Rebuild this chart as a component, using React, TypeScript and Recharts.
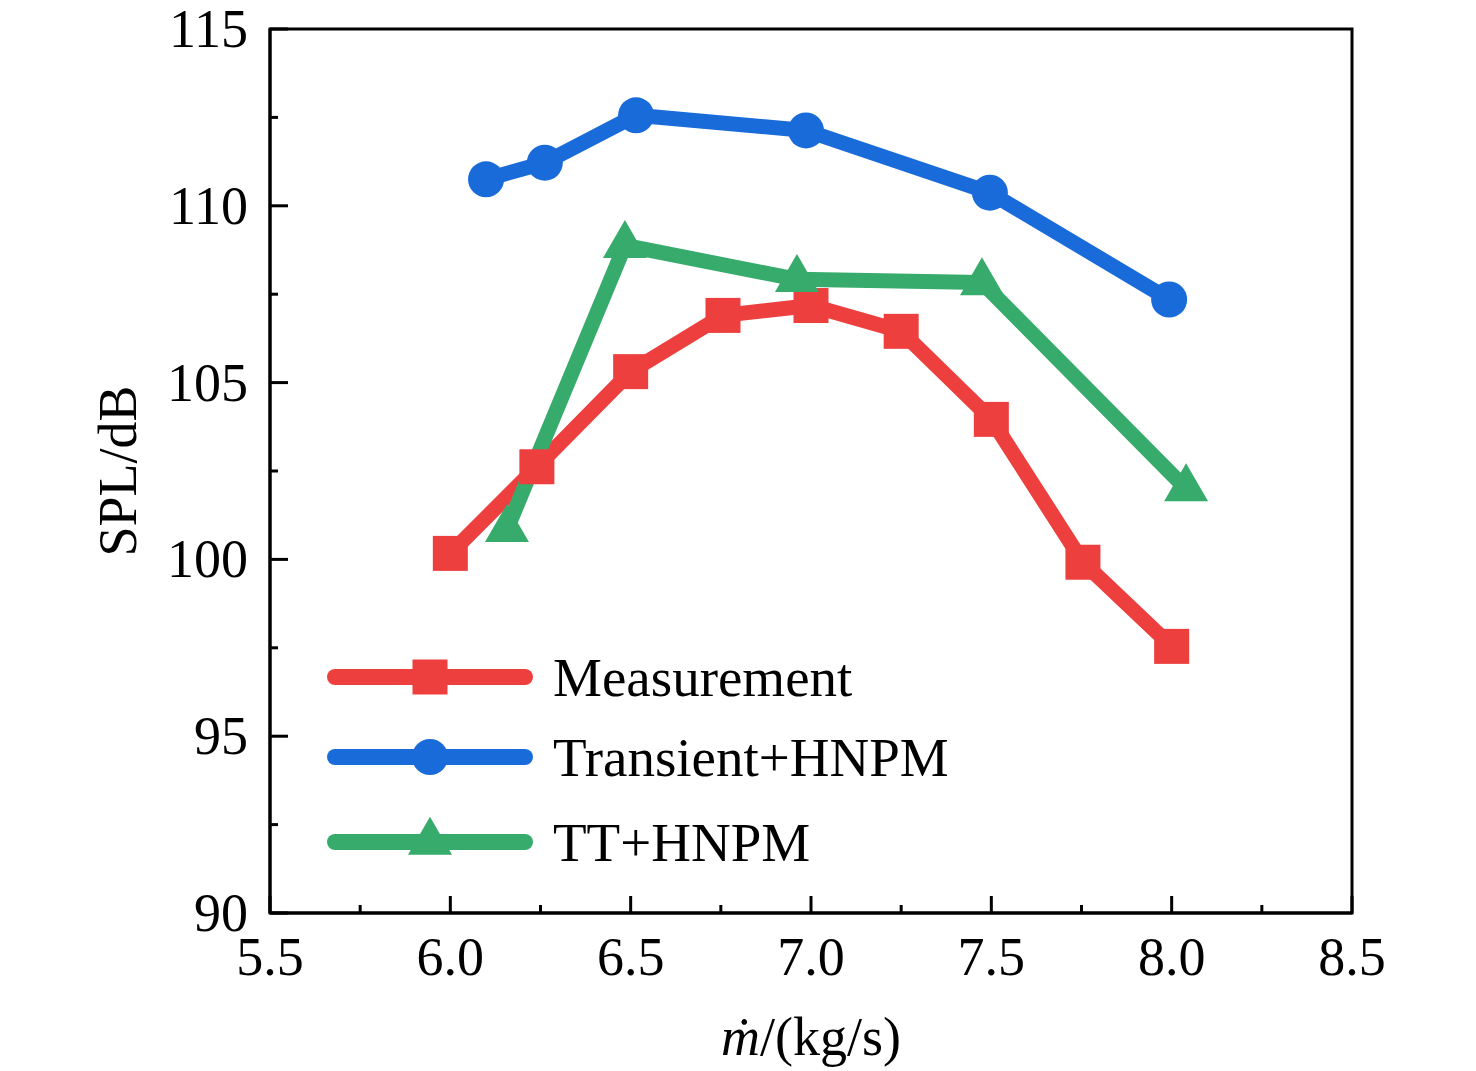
import React from "react";
import { LineChart, Line, XAxis, YAxis, ReferenceArea } from "recharts";

// m-dot (kg/s) vs SPL (dB)
const measX = [6.0, 6.24, 6.5, 6.756, 7.0, 7.25, 7.5, 7.754, 8.0];
const measY = [100.17, 102.62, 105.31, 106.9, 107.18, 106.45, 103.96, 99.92, 97.54];

const transX = [6.099, 6.262, 6.515, 6.986, 7.496, 7.993];
const transY = [110.75, 111.22, 112.56, 112.13, 110.37, 107.35];

const ttX = [6.157, 6.484, 6.961, 7.474, 8.04];
const ttY = [100.85, 108.88, 107.92, 107.83, 102.0];

const xMajor = [5.5, 6.0, 6.5, 7.0, 7.5, 8.0, 8.5];
const xMinor = [5.75, 6.25, 6.75, 7.25, 7.75, 8.25];
const yMajor = [90, 95, 100, 105, 110, 115];
const yMinor = [92.5, 97.5, 102.5, 107.5, 112.5];

const RED = "#EE3F3F";
const BLUE = "#1A6BDA";
const GREEN = "#36AB6B";

const FONT = "'Liberation Serif', 'Times New Roman', serif";
const W = 1476;
const H = 1071;

const zip = (xs: number[], ys: number[]) => xs.map((x, i) => ({ x, y: ys[i] }));

type Shape = "square" | "circle" | "triangle";

function Marker({ cx, cy, shape, color }: { cx: number; cy: number; shape: Shape; color: string }) {
  if (cx == null || cy == null) return null;
  if (shape === "square") {
    return <rect x={cx - 17.5} y={cy - 17.5} width={35} height={35} fill={color} />;
  }
  if (shape === "circle") {
    return <circle cx={cx} cy={cy} r={18} fill={color} />;
  }
  // triangle: centroid sits on the data point
  const w = 44;
  const h = 38;
  return (
    <polygon
      points={`${cx},${cy - (2 * h) / 3} ${cx - w / 2},${cy + h / 3} ${cx + w / 2},${cy + h / 3}`}
      fill={color}
    />
  );
}

const series = [
  { name: "Measurement", data: zip(measX, measY), color: RED, shape: "square" as Shape },
  { name: "Transient+HNPM", data: zip(transX, transY), color: BLUE, shape: "circle" as Shape },
  { name: "TT+HNPM", data: zip(ttX, ttY), color: GREEN, shape: "triangle" as Shape },
];

function XTick(props: any) {
  const { x, y, payload } = props;
  const major = xMajor.includes(payload.value);
  return (
    <g>
      <line x1={x} x2={x} y1={y} y2={y - (major ? 17 : 8)} stroke="#000" strokeWidth={3} />
      {major && (
        <text
          x={x}
          y={y + 44}
          textAnchor="middle"
          dominantBaseline="central"
          fontFamily={FONT}
          fontSize={54}
          fill="#000"
        >
          {payload.value.toFixed(1)}
        </text>
      )}
    </g>
  );
}

function YTick(props: any) {
  const { x, y, payload } = props;
  const major = yMajor.includes(payload.value);
  return (
    <g>
      <line x1={x} x2={x + (major ? 18 : 8)} y1={y} y2={y} stroke="#000" strokeWidth={3} />
      {major && (
        <text
          x={x - 22}
          y={y}
          textAnchor="end"
          dominantBaseline="central"
          fontFamily={FONT}
          fontSize={54}
          fill="#000"
        >
          {payload.value}
        </text>
      )}
    </g>
  );
}

function XLabel(props: any) {
  const { viewBox } = props;
  const cx = viewBox.x + viewBox.width / 2;
  return (
    <text x={cx} y={viewBox.y + 142} textAnchor="middle" fontFamily={FONT} fontSize={54} fill="#000">
      <tspan fontStyle="italic">ṁ</tspan>/(kg/s)
    </text>
  );
}

function YLabel(props: any) {
  const { viewBox } = props;
  const cy = viewBox.y + viewBox.height / 2;
  const cx = 118;
  return (
    <text
      x={cx}
      y={cy}
      transform={`rotate(-90, ${cx}, ${cy})`}
      textAnchor="middle"
      dominantBaseline="central"
      fontFamily={FONT}
      fontSize={54}
      fill="#000"
    >
      SPL/dB
    </text>
  );
}

function LegendBox() {
  const rows = [677, 757, 842];
  return (
    <svg
      width={W}
      height={H}
      style={{ position: "absolute", left: 0, top: 0, pointerEvents: "none" }}
    >
      {series.map((s, i) => (
        <g key={s.name}>
          <line
            x1={335}
            x2={525}
            y1={rows[i]}
            y2={rows[i]}
            stroke={s.color}
            strokeWidth={16}
            strokeLinecap="round"
          />
          <Marker cx={430} cy={rows[i]} shape={s.shape} color={s.color} />
          <text
            x={553}
            y={rows[i]}
            dominantBaseline="central"
            fontFamily={FONT}
            fontSize={55}
            fill="#000"
          >
            {s.name}
          </text>
        </g>
      ))}
    </svg>
  );
}

export default function App() {
  return (
    <div style={{ position: "absolute", left: 0, top: 0, width: W, height: H, background: "#fff" }}>
      <LineChart width={W} height={H} margin={{ top: 29, right: 124, bottom: 0, left: 0 }}>
        <XAxis
          type="number"
          dataKey="x"
          domain={[5.5, 8.5]}
          ticks={[...xMajor, ...xMinor].sort((a, b) => a - b)}
          interval={0}
          height={158}
          tickSize={0}
          tickMargin={0}
          tickLine={false}
          tick={<XTick />}
          axisLine={{ stroke: "#000", strokeWidth: 3 }}
          label={<XLabel />}
          allowDataOverflow
        />
        <YAxis
          type="number"
          domain={[90, 115]}
          ticks={[...yMajor, ...yMinor].sort((a, b) => a - b)}
          interval={0}
          width={270}
          tickSize={0}
          tickMargin={0}
          tickLine={false}
          tick={<YTick />}
          axisLine={{ stroke: "#000", strokeWidth: 3 }}
          label={<YLabel />}
          allowDataOverflow
        />
        <ReferenceArea
          x1={5.5}
          x2={8.5}
          y1={90}
          y2={115}
          fill="none"
          stroke="#000"
          strokeWidth={3}
          ifOverflow="visible"
        />
        {series.map((s) => (
          <Line
            key={s.name}
            data={s.data}
            dataKey="y"
            name={s.name}
            type="linear"
            stroke={s.color}
            strokeWidth={15}
            strokeLinecap="round"
            strokeLinejoin="round"
            isAnimationActive={false}
            dot={(p: any) => <Marker key={p.key ?? p.index} cx={p.cx} cy={p.cy} shape={s.shape} color={s.color} />}
            activeDot={false}
          />
        ))}
      </LineChart>
      <LegendBox />
    </div>
  );
}
